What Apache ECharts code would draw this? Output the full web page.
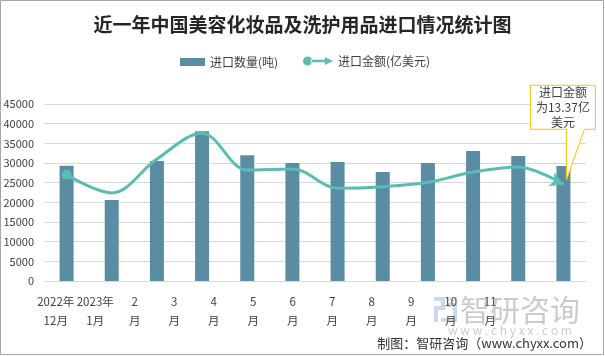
<!DOCTYPE html>
<html>
<head>
<meta charset="utf-8">
<script src="https://cdn.jsdelivr.net/npm/echarts@6/dist/echarts.min.js"></script>
<style>
html,body{margin:0;padding:0;background:#fff;}
#c{width:605px;height:356px;}
</style>
</head>
<body>
<div id="c"></div>
<script>
var categories = ['2022年12月','2023年1月','2月','3月','4月','5月','6月','7月','8月','9月','10月','11月'];
var tickLabels = ['2022年\n12月','2023年\n1月','2\n月','3\n月','4\n月','5\n月','6\n月','7\n月','8\n月','9\n月','10\n月','11\n月'];
var quantity = [29300, 20600, 30500, 38100, 32000, 30000, 30250, 27700, 30000, 33050, 31800, 29250];
var amount = [14.67, 12.17, 16.85, 20.43, 15.33, 15.49, 12.83, 13.04, 13.64, 15.05, 15.76, 13.37];
var titleText = '近一年中国美容化妆品及洗护用品进口情况统计图';
var barName = '进口数量(吨)';
var lineName = '进口金额(亿美元)';
var calloutText = '进口金额\n为13.37亿\n美元';
var sourceText = '制图：智研咨询（www.chyxx.com）';

var FONT = "'Noto Sans CJK SC', 'Noto Sans', sans-serif";
var barColor = '#5a8ca4';
var lineColor = '#5bbdb2';

var chart = echarts.init(document.getElementById('c'), null, {renderer: 'canvas'});

var lineData = amount.map(function (v, i) {
  if (i === 0) return {value: v, symbol: 'circle', symbolSize: 10};
  if (i === amount.length - 1) return {value: v, symbol: 'arrow', symbolSize: [11, 13], symbolRotate: -112};
  return {value: v, symbol: 'none'};
});

var option = {
  backgroundColor: '#fff',
  animation: false,
  textStyle: {fontFamily: FONT},
  title: {
    text: titleText,
    left: 'center',
    top: 10,
    textStyle: {fontFamily: FONT, fontSize: 19, fontWeight: 'bold', color: '#262626'}
  },
  legend: [{
    data: [barName],
    left: 175, top: 51,
    icon: 'rect', itemWidth: 25, itemHeight: 8, itemGap: 4,
    textStyle: {fontSize: 12, color: '#404040', fontFamily: FONT}
  }, {
    data: [{name: lineName, icon: 'path://M0.5,5a4.5,4.5 0 1,0 9,0a4.5,4.5 0 1,0 -9,0Z M8,3.8H24V6.2H8Z M22,1L30,5L22,9Z'}],
    left: 298, top: 50,
    itemWidth: 30, itemHeight: 10, itemGap: 4,
    textStyle: {fontSize: 12, color: '#404040', fontFamily: FONT}
  }],
  grid: [
    {left: 44, right: 19, top: 104, bottom: 75},
    {left: 36, width: 474, top: 104, bottom: 75}
  ],
  xAxis: [{
    type: 'category', gridIndex: 0, data: categories,
    axisLine: {show: false}, axisTick: {show: false}, axisLabel: {show: false}
  }, {
    type: 'category', gridIndex: 1, data: tickLabels,
    axisLine: {show: false}, axisTick: {show: false},
    axisLabel: {show: true, interval: 0, margin: 11, fontSize: 11.5, lineHeight: 19, color: '#404040', fontFamily: FONT}
  }],
  yAxis: [{
    type: 'value', gridIndex: 0, min: 0, max: 45000, interval: 5000,
    axisLine: {show: false}, axisTick: {show: false},
    axisLabel: {margin: 10, fontSize: 11, color: '#404040', fontFamily: FONT, formatter: function (v) { return String(v); }},
    splitLine: {lineStyle: {color: '#d9d9d9', width: 1}}
  }, {
    type: 'value', gridIndex: 0, min: 0, max: 24.46, show: false, splitLine: {show: false}
  }, {
    type: 'value', gridIndex: 1, show: false, splitLine: {show: false}
  }],
  series: [{
    name: barName, type: 'bar', xAxisIndex: 0, yAxisIndex: 0,
    data: quantity, barWidth: 14,
    itemStyle: {color: barColor}
  }, {
    name: lineName, type: 'line', xAxisIndex: 0, yAxisIndex: 1,
    data: lineData, smooth: 0.35, symbol: 'none', showSymbol: true,
    lineStyle: {color: lineColor, width: 3},
    itemStyle: {color: lineColor}
  }]
};
chart.setOption(option);

var p = chart.convertToPixel({seriesIndex: 1}, [amount.length - 1, amount[amount.length - 1]]);
var tx = p[0] + 3, ty = p[1] - 4;
var boxL = tx - 36, boxR = tx + 29, boxT = ty - 95, boxB = ty - 51;
chart.setOption({
  graphic: [
    {type: 'rect', shape: {x: 0.5, y: 0.5, width: 603, height: 354}, style: {fill: null, stroke: '#a6a6a6', lineWidth: 1}, silent: true, z: 100},
    {type: 'polygon', shape: {points: [[boxL, boxT], [boxR, boxT], [boxR, boxB], [tx + 18, boxB], [tx, ty], [tx, boxB], [boxL, boxB]]},
     style: {fill: '#fff', stroke: '#ffc000', lineWidth: 1}, z: 50},
    {type: 'text', x: (boxL + boxR) / 2, y: (boxT + boxB) / 2, z: 51,
     style: {text: calloutText, fontSize: 12, lineHeight: 15, fill: '#404040', align: 'center', verticalAlign: 'middle', fontFamily: FONT}},
    {type: 'group', x: 434, y: 297, z: 5, silent: true, children: [
      {type: 'rect', shape: {x: 0, y: 0, width: 11, height: 4}, style: {fill: '#c9d8ea'}},
      {type: 'rect', shape: {x: 7, y: 0, width: 4, height: 13}, style: {fill: '#c9d8ea'}},
      {type: 'rect', shape: {x: 0, y: 9, width: 11, height: 4}, style: {fill: '#c9d8ea'}},
      {type: 'rect', shape: {x: 0, y: 9, width: 4, height: 16}, style: {fill: '#c9d8ea'}},
      {type: 'rect', shape: {x: 13, y: 0, width: 10, height: 4}, style: {fill: '#dde6f0'}},
      {type: 'rect', shape: {x: 13, y: 6, width: 10, height: 4}, style: {fill: '#c9d8ea'}},
      {type: 'rect', shape: {x: 19, y: 6, width: 4, height: 19}, style: {fill: '#c9d8ea'}},
      {type: 'rect', shape: {x: 7, y: 21, width: 16, height: 4}, style: {fill: '#c9d8ea'}}
    ]},
    {type: 'text', x: 460, y: 310, z: 5, silent: true,
     style: {text: '智研咨询', fontSize: 30, fill: 'rgba(160,160,160,0.55)', verticalAlign: 'middle', fontFamily: FONT}},
    {type: 'text', x: 510, y: 330, z: 5, silent: true,
     style: {text: 'w w w . c h y x x . c o m', fontSize: 12, fill: 'rgba(170,170,170,0.6)', align: 'center', verticalAlign: 'middle', fontFamily: FONT}},
    {type: 'text', right: 13, top: 337, z: 60,
     style: {text: sourceText, fontSize: 13, fill: '#333', fontFamily: FONT}}
  ]
});
</script>
</body>
</html>
